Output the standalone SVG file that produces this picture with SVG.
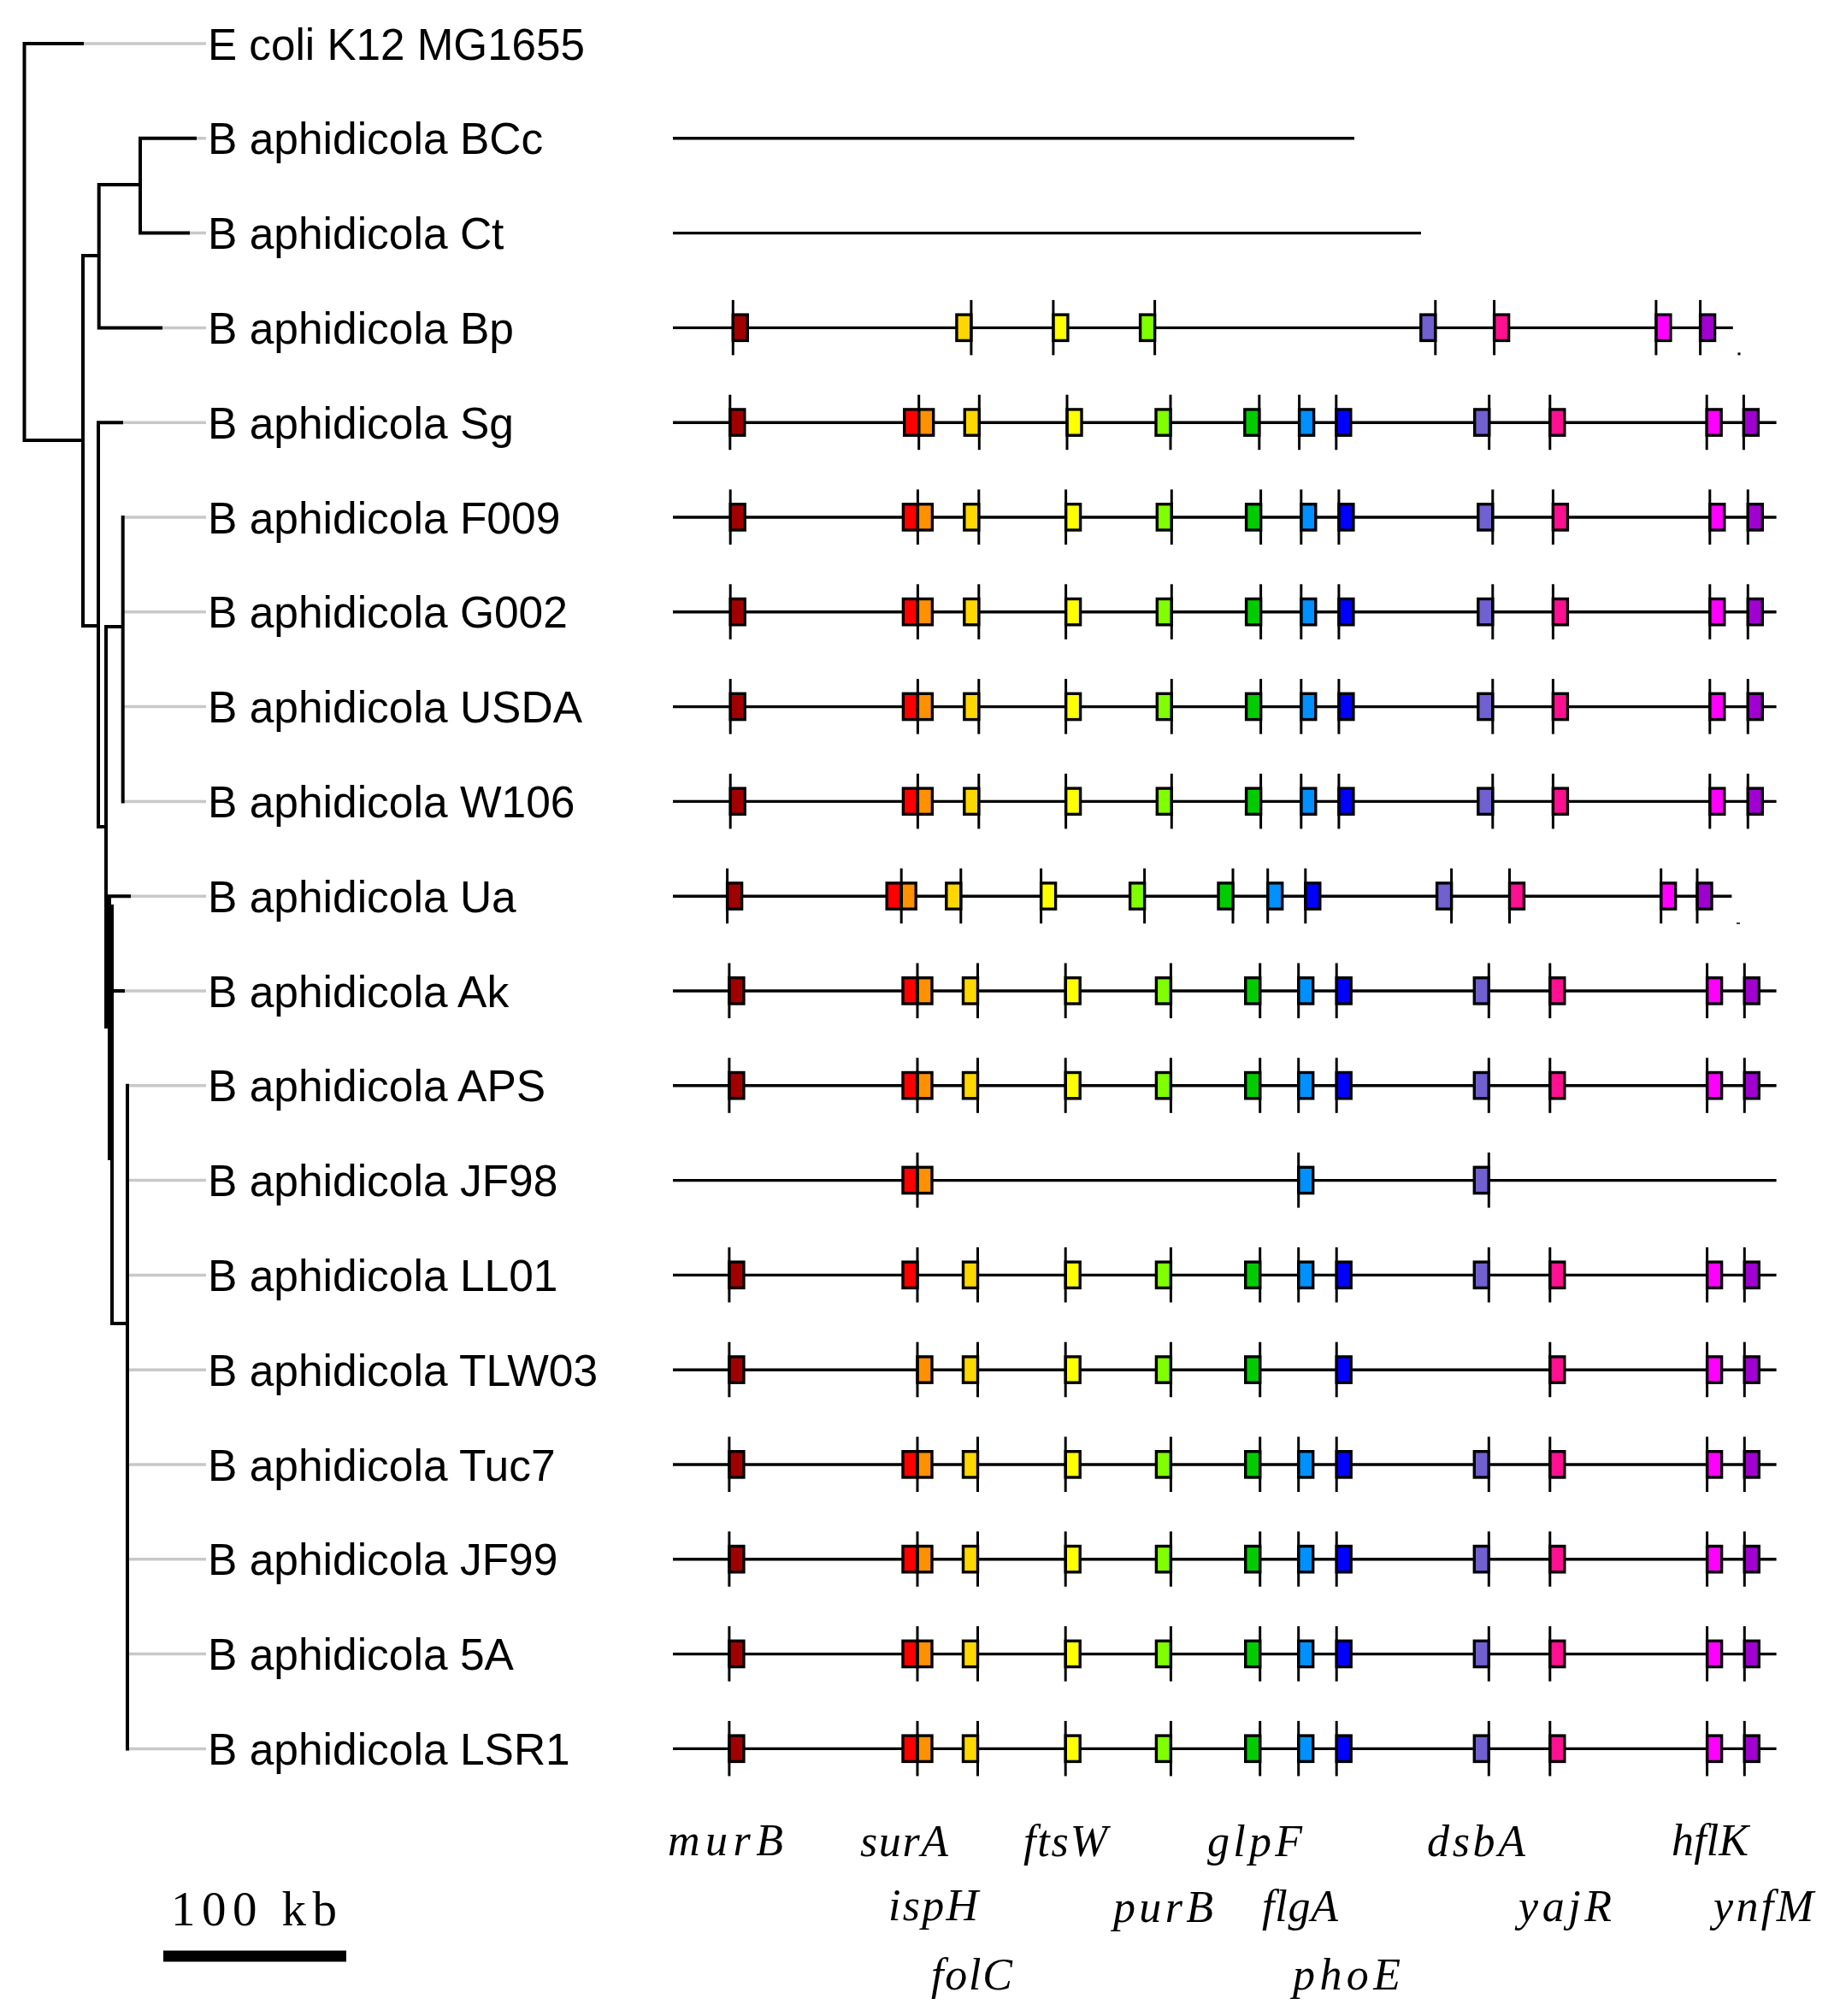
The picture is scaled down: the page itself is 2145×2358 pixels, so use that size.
<svg xmlns="http://www.w3.org/2000/svg" xmlns:xlink="http://www.w3.org/1999/xlink" width="2145" height="2358" viewBox="0 0 2145 2358">
<style>
.tr{stroke:#000;stroke-width:4;fill:none;stroke-linecap:square}
.gr{stroke:#c8c8c8;stroke-width:3.5;fill:none}
.trk{stroke:#000;stroke-width:3.4}
.lab{font-family:"Liberation Sans",Arial,sans-serif;font-size:51.5px;fill:#000}
.gene{font-family:"Liberation Serif","Times New Roman",serif;font-style:italic;font-size:52px;fill:#000}
.sc{font-family:"Liberation Serif","Times New Roman",serif;font-size:57px;fill:#000}
.murB{fill:#a00000}.surA{fill:#ff0000}.ispH{fill:#ff9000}.folC{fill:#ffd700}.ftsW{fill:#ffff00}.purB{fill:#80ff00}.glpF{fill:#00cc00}.flgA{fill:#0090ff}.phoE{fill:#0000ff}.dsbA{fill:#7060d0}.yajR{fill:#ff1090}.hflK{fill:#ff00ff}.ynfM{fill:#a000d0}
</style>
<defs>
<rect id="bL" x="0" y="-15.3" width="17" height="30.3" stroke="#000" stroke-width="3.4"/>
<rect id="bR" x="-17" y="-15.3" width="17" height="30.3" stroke="#000" stroke-width="3.4"/>
<line id="tk" x1="0" y1="-32.5" x2="0" y2="32" stroke="#000" stroke-width="3"/>
</defs>
<rect width="2145" height="2358" fill="#fff"/>

<g id="connectors">
<path class="gr" d="M96,51H241M228,161.8H241M220,272.6H241M188,383.4H241M142,494.2H241M143.7,605H241M143.7,715.8H241M143.7,826.6H241M143.7,937.4H241M151,1048.2H241M144,1159H241M149,1269.8H241M149,1380.6H241M149,1491.4H241M149,1602.2H241M149,1713H241M149,1823.8H241M149,1934.6H241M149,2045.4H241"/>
<path class="tr" d="M28.5,51H96M28.5,51V515H97M97,299V732H115M97,299H115.7M115.7,216V383.4H188M115.7,216H164M164,161.8V272.6M164,161.8H228M164,272.6H220M115,494.2V967H124M115,494.2H142M124,733V1201M124,733H143.7M143.7,605V937.4M124,1048.2H151M128,1048.2V1355M131,1060V1548H149M131,1159H144M149,1269.8V2045.4"/>
</g>

<g id="row-Ecoli"><text class="lab" x="243" y="69.6" textLength="441" lengthAdjust="spacingAndGlyphs">E coli K12 MG1655</text></g>

<g id="row-BCc"><text class="lab" x="243" y="180.4">B aphidicola BCc</text><line class="trk" x1="787" y1="161.8" x2="1584" y2="161.8"/></g>

<g id="row-Ct"><text class="lab" x="243" y="291.2">B aphidicola Ct</text><line class="trk" x1="787" y1="272.6" x2="1662" y2="272.6"/></g>

<g id="row-Bp"><text class="lab" x="243" y="402">B aphidicola Bp</text>
<g transform="translate(0,383.4)"><line class="trk" x1="787" y1="0" x2="2026.8" y2="0"/>
<use href="#bL" x="857.3" class="murB"/><use href="#tk" x="857.3"/>
<use href="#bR" x="1135.9" class="folC"/><use href="#tk" x="1135.9"/>
<use href="#bL" x="1231.9" class="ftsW"/><use href="#tk" x="1231.9"/>
<use href="#bR" x="1350.6" class="purB"/><use href="#tk" x="1350.6"/>
<use href="#bR" x="1678.8" class="dsbA"/><use href="#tk" x="1678.8"/>
<use href="#bL" x="1747.6" class="yajR"/><use href="#tk" x="1747.6"/>
<use href="#bL" x="1936.9" class="hflK"/><use href="#tk" x="1936.9"/>
<use href="#bL" x="1988.6" class="ynfM"/><use href="#tk" x="1988.6"/>
<rect x="2032.5" y="29" width="3" height="3" fill="#000"/>
</g></g>

<g id="row-Sg"><text class="lab" x="243" y="512.8">B aphidicola Sg</text>
<g transform="translate(0,494.2)"><line class="trk" x1="787" y1="0" x2="2077.6" y2="0"/>
<use href="#bL" x="853.8" class="murB"/><use href="#tk" x="853.8"/>
<use href="#bR" x="1074.7" class="surA"/><use href="#bL" x="1074.7" class="ispH"/><use href="#tk" x="1074.7"/>
<use href="#bR" x="1145.3" class="folC"/><use href="#tk" x="1145.3"/>
<use href="#bL" x="1248" class="ftsW"/><use href="#tk" x="1248"/>
<use href="#bR" x="1369" class="purB"/><use href="#tk" x="1369"/>
<use href="#bR" x="1472.8" class="glpF"/><use href="#tk" x="1472.8"/>
<use href="#bL" x="1519.6" class="flgA"/><use href="#tk" x="1519.6"/>
<use href="#bL" x="1562.8" class="phoE"/><use href="#tk" x="1562.8"/>
<use href="#bR" x="1741.7" class="dsbA"/><use href="#tk" x="1741.7"/>
<use href="#bL" x="1812.8" class="yajR"/><use href="#tk" x="1812.8"/>
<use href="#bL" x="1996.2" class="hflK"/><use href="#tk" x="1996.2"/>
<use href="#bL" x="2039.4" class="ynfM"/><use href="#tk" x="2039.4"/>
</g></g>

<g id="row-F009"><text class="lab" x="243" y="623.6">B aphidicola F009</text>
<g id="trackF" transform="translate(0,605)"><line class="trk" x1="787" y1="0" x2="2077.6" y2="0"/>
<use href="#bL" x="854.2" class="murB"/><use href="#tk" x="854.2"/>
<use href="#bR" x="1073.4" class="surA"/><use href="#bL" x="1073.4" class="ispH"/><use href="#tk" x="1073.4"/>
<use href="#bR" x="1144.8" class="folC"/><use href="#tk" x="1144.8"/>
<use href="#bL" x="1246.6" class="ftsW"/><use href="#tk" x="1246.6"/>
<use href="#bR" x="1370.3" class="purB"/><use href="#tk" x="1370.3"/>
<use href="#bR" x="1474.6" class="glpF"/><use href="#tk" x="1474.6"/>
<use href="#bL" x="1521.8" class="flgA"/><use href="#tk" x="1521.8"/>
<use href="#bL" x="1565.9" class="phoE"/><use href="#tk" x="1565.9"/>
<use href="#bR" x="1745.8" class="dsbA"/><use href="#tk" x="1745.8"/>
<use href="#bL" x="1816.4" class="yajR"/><use href="#tk" x="1816.4"/>
<use href="#bL" x="1999.8" class="hflK"/><use href="#tk" x="1999.8"/>
<use href="#bL" x="2044.3" class="ynfM"/><use href="#tk" x="2044.3"/>
</g></g>

<g id="row-G002"><text class="lab" x="243" y="734.4">B aphidicola G002</text>
<use href="#trackF" y="110.8"/></g>

<g id="row-USDA"><text class="lab" x="243" y="845.2">B aphidicola USDA</text>
<use href="#trackF" y="221.6"/></g>

<g id="row-W106"><text class="lab" x="243" y="956">B aphidicola W106</text>
<use href="#trackF" y="332.4"/></g>

<g id="row-Ua"><text class="lab" x="243" y="1066.8">B aphidicola Ua</text>
<g transform="translate(0,1048.2)"><line class="trk" x1="787" y1="0" x2="2025.4" y2="0"/>
<use href="#bL" x="850.6" class="murB"/><use href="#tk" x="850.6"/>
<use href="#bR" x="1054.2" class="surA"/><use href="#bL" x="1054.2" class="ispH"/><use href="#tk" x="1054.2"/>
<use href="#bR" x="1123.8" class="folC"/><use href="#tk" x="1123.8"/>
<use href="#bL" x="1217.6" class="ftsW"/><use href="#tk" x="1217.6"/>
<use href="#bR" x="1338.6" class="purB"/><use href="#tk" x="1338.6"/>
<use href="#bR" x="1442" class="glpF"/><use href="#tk" x="1442"/>
<use href="#bL" x="1482.7" class="flgA"/><use href="#tk" x="1482.7"/>
<use href="#bL" x="1526.8" class="phoE"/><use href="#tk" x="1526.8"/>
<use href="#bR" x="1697.6" class="dsbA"/><use href="#tk" x="1697.6"/>
<use href="#bL" x="1765.5" class="yajR"/><use href="#tk" x="1765.5"/>
<use href="#bL" x="1942.7" class="hflK"/><use href="#tk" x="1942.7"/>
<use href="#bL" x="1985" class="ynfM"/><use href="#tk" x="1985"/>
<rect x="2031" y="31" width="4" height="1.5" fill="#000"/>
</g></g>

<g id="row-Ak"><text class="lab" x="243" y="1177.6">B aphidicola Ak</text>
<g id="trackL" transform="translate(0,1159)"><line class="trk" x1="787" y1="0" x2="2077.6" y2="0"/>
<use href="#bL" x="852.9" class="murB"/><use href="#tk" x="852.9"/>
<use href="#bR" x="1073" class="surA"/><use href="#bL" x="1073" class="ispH"/><use href="#tk" x="1073"/>
<use href="#bR" x="1143.5" class="folC"/><use href="#tk" x="1143.5"/>
<use href="#bL" x="1246.2" class="ftsW"/><use href="#tk" x="1246.2"/>
<use href="#bR" x="1369.4" class="purB"/><use href="#tk" x="1369.4"/>
<use href="#bR" x="1473.7" class="glpF"/><use href="#tk" x="1473.7"/>
<use href="#bL" x="1518.7" class="flgA"/><use href="#tk" x="1518.7"/>
<use href="#bL" x="1563.2" class="phoE"/><use href="#tk" x="1563.2"/>
<use href="#bR" x="1741.3" class="dsbA"/><use href="#tk" x="1741.3"/>
<use href="#bL" x="1812.8" class="yajR"/><use href="#tk" x="1812.8"/>
<use href="#bL" x="1996.6" class="hflK"/><use href="#tk" x="1996.6"/>
<use href="#bL" x="2040.3" class="ynfM"/><use href="#tk" x="2040.3"/>
</g></g>

<g id="row-APS"><text class="lab" x="243" y="1288.4">B aphidicola APS</text>
<use href="#trackL" y="110.8"/></g>

<g id="row-JF98"><text class="lab" x="243" y="1399.2">B aphidicola JF98</text>
<g transform="translate(0,1380.6)"><line class="trk" x1="787" y1="0" x2="2077.6" y2="0"/>
<use href="#bR" x="1073" class="surA"/><use href="#bL" x="1073" class="ispH"/><use href="#tk" x="1073"/>
<use href="#bL" x="1518.7" class="flgA"/><use href="#tk" x="1518.7"/>
<use href="#bR" x="1741.3" class="dsbA"/><use href="#tk" x="1741.3"/>
</g></g>

<g id="row-LL01"><text class="lab" x="243" y="1510">B aphidicola LL01</text>
<g transform="translate(0,1491.4)"><line class="trk" x1="787" y1="0" x2="2077.6" y2="0"/>
<use href="#bL" x="852.9" class="murB"/><use href="#tk" x="852.9"/>
<use href="#bR" x="1073" class="surA"/><use href="#tk" x="1073"/>
<use href="#bR" x="1143.5" class="folC"/><use href="#tk" x="1143.5"/>
<use href="#bL" x="1246.2" class="ftsW"/><use href="#tk" x="1246.2"/>
<use href="#bR" x="1369.4" class="purB"/><use href="#tk" x="1369.4"/>
<use href="#bR" x="1473.7" class="glpF"/><use href="#tk" x="1473.7"/>
<use href="#bL" x="1518.7" class="flgA"/><use href="#tk" x="1518.7"/>
<use href="#bL" x="1563.2" class="phoE"/><use href="#tk" x="1563.2"/>
<use href="#bR" x="1741.3" class="dsbA"/><use href="#tk" x="1741.3"/>
<use href="#bL" x="1812.8" class="yajR"/><use href="#tk" x="1812.8"/>
<use href="#bL" x="1996.6" class="hflK"/><use href="#tk" x="1996.6"/>
<use href="#bL" x="2040.3" class="ynfM"/><use href="#tk" x="2040.3"/>
</g></g>

<g id="row-TLW03"><text class="lab" x="243" y="1620.8">B aphidicola TLW03</text>
<g transform="translate(0,1602.2)"><line class="trk" x1="787" y1="0" x2="2077.6" y2="0"/>
<use href="#bL" x="852.9" class="murB"/><use href="#tk" x="852.9"/>
<use href="#bL" x="1073" class="ispH"/><use href="#tk" x="1073"/>
<use href="#bR" x="1143.5" class="folC"/><use href="#tk" x="1143.5"/>
<use href="#bL" x="1246.2" class="ftsW"/><use href="#tk" x="1246.2"/>
<use href="#bR" x="1369.4" class="purB"/><use href="#tk" x="1369.4"/>
<use href="#bR" x="1473.7" class="glpF"/><use href="#tk" x="1473.7"/>
<use href="#bL" x="1563.2" class="phoE"/><use href="#tk" x="1563.2"/>
<use href="#bL" x="1812.8" class="yajR"/><use href="#tk" x="1812.8"/>
<use href="#bL" x="1996.6" class="hflK"/><use href="#tk" x="1996.6"/>
<use href="#bL" x="2040.3" class="ynfM"/><use href="#tk" x="2040.3"/>
</g></g>

<g id="row-Tuc7"><text class="lab" x="243" y="1731.6">B aphidicola Tuc7</text>
<use href="#trackL" y="554"/></g>

<g id="row-JF99"><text class="lab" x="243" y="1842.4">B aphidicola JF99</text>
<use href="#trackL" y="664.8"/></g>

<g id="row-5A"><text class="lab" x="243" y="1953.2">B aphidicola 5A</text>
<use href="#trackL" y="775.6"/></g>

<g id="row-LSR1"><text class="lab" x="243" y="2064">B aphidicola LSR1</text>
<use href="#trackL" y="886.4"/></g>

<g id="gene-labels">
<text class="gene" x="781" y="2170" textLength="135" lengthAdjust="spacing">murB</text>
<text class="gene" x="1006" y="2171" textLength="103" lengthAdjust="spacing">surA</text>
<text class="gene" x="1197" y="2171" textLength="98" lengthAdjust="spacing">ftsW</text>
<text class="gene" x="1412" y="2171" textLength="111" lengthAdjust="spacing">glpF</text>
<text class="gene" x="1669" y="2171" textLength="115" lengthAdjust="spacing">dsbA</text>
<text class="gene" x="1955" y="2170" textLength="90" lengthAdjust="spacing">hflK</text>
<text class="gene" x="1039" y="2246" textLength="105" lengthAdjust="spacing">ispH</text>
<text class="gene" x="1302" y="2248" textLength="117" lengthAdjust="spacing">purB</text>
<text class="gene" x="1476" y="2247" textLength="89" lengthAdjust="spacing">flgA</text>
<text class="gene" x="1776" y="2247" textLength="109" lengthAdjust="spacing">yajR</text>
<text class="gene" x="2004" y="2247" textLength="117" lengthAdjust="spacing">ynfM</text>
<text class="gene" x="1089" y="2327" textLength="95" lengthAdjust="spacing">folC</text>
<text class="gene" x="1512" y="2327" textLength="126" lengthAdjust="spacing">phoE</text>
</g>

<g id="scale-bar">
<text class="sc" x="200" y="2252" textLength="194" lengthAdjust="spacing">100 kb</text>
<rect x="191" y="2281.5" width="214" height="13" fill="#000"/>
</g>
</svg>
